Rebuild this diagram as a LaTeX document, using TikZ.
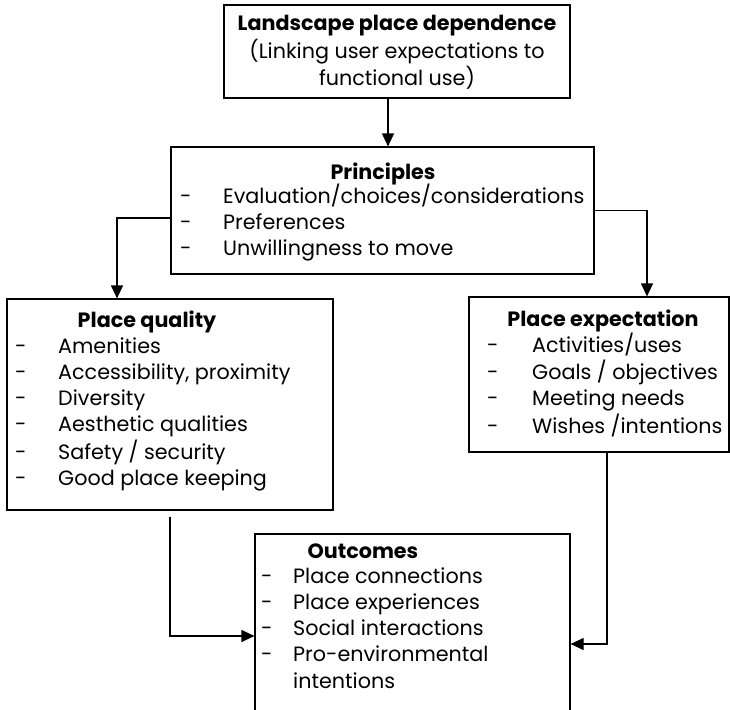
\documentclass[tikz,border=0pt]{standalone}
\usepackage{fontspec}
\setmainfont{Poppins}
\usetikzlibrary{arrows.meta}

\tikzset{
	box/.style={draw, line width=1.2pt, inner sep=0pt},
	conn/.style={line width=1.2pt, -{Triangle[length=13pt,width=12pt]}},
	ttl/.style={inner sep=0pt, anchor=base, font=\boxfont\bfseries},
	lst/.style={inner sep=0pt, anchor=base west}
}
\newcommand{\boxfont}{\fontsize{20.7}{26.3}\selectfont}

\begin{document}
\begin{tikzpicture}[x=1pt, y=-1pt, font=\boxfont]
			%%%%% START %%%%%
			\clip (0, 0) rectangle (730, 709);
			
			% boxes
			\node[box, minimum width=346pt, minimum height=93pt] (dep) at (397, 51.5) {};
			\node[box, minimum width=423pt, minimum height=127pt] (prin) at (382.5, 210.5) {};
			\node[box, minimum width=326pt, minimum height=211pt] (qual) at (170, 404.5) {};
			\node[box, minimum width=260pt, minimum height=155pt] (expc) at (599, 374.5) {};
			\node[box, minimum width=315pt, minimum height=186pt] (outc) at (412.5, 627) {};
			
			% texts
			\node[inner sep=0pt, anchor=base] (deptxt) at (397, 31) {\begin{tabular}[t]{@{}c@{}}
				\textbf{Landscape place dependence}\\
				(Linking user expectations to\\
				functional use)
			\end{tabular}};
			
			\node[ttl] (printtl) at (383, 179) {Principles};
			\node[lst] (prinlst) at (180, 203) {\begin{tabular}[t]{@{}p{43pt}@{}l@{}}
				- & Evaluation/choices/considerations\\
				- & Preferences\\
				- & Unwillingness to move
			\end{tabular}};
			
			\node[ttl] (qualttl) at (147, 327) {Place quality};
			\node[lst] (quallst) at (15, 353) {\begin{tabular}[t]{@{}p{43pt}@{}l@{}}
				- & Amenities\\
				- & Accessibility, proximity\\
				- & Diversity\\
				- & Aesthetic qualities\\
				- & Safety / security\\
				- & Good place keeping
			\end{tabular}};
			
			\node[ttl] (expcttl) at (603, 326) {Place expectation};
			\node[lst] (expclst) at (487, 352) {\begin{tabular}[t]{@{}p{45pt}@{}l@{}}
				- & Activities/uses\\
				- & Goals / objectives\\
				- & Meeting needs\\
				- & Wishes /intentions
			\end{tabular}};
			
			\node[ttl] (outcttl) at (363, 558) {Outcomes};
			\node[lst] (outclst) at (261, 583) {\begin{tabular}[t]{@{}p{32pt}@{}l@{}}
				- & Place connections\\
				- & Place experiences\\
				- & Social interactions\\
				- & Pro-environmental\\
				  & intentions
			\end{tabular}};
			
			% connectors
			\coordinate (depx) at (388, 0);
			\coordinate (qualx) at (117, 218);
			\coordinate (expcx) at (647, 0);
			\coordinate (outr) at (607, 644);
			\coordinate (outl) at (170, 636);
			
			\draw[conn] (dep.south -| depx) -- (prin.north -| depx);
			\draw[conn] (prin.west |- qualx) -| (qual.north -| qualx);
			\draw[conn] (prin.east) -| (expc.north -| expcx);
			\draw[conn] (expc.south -| outr) |- (outc.east |- outr);
			\draw[conn] ([yshift=-6pt]qual.south) |- (outc.west |- outl);
			
			%%%%% END %%%%%
		\end{tikzpicture}
\end{document}
